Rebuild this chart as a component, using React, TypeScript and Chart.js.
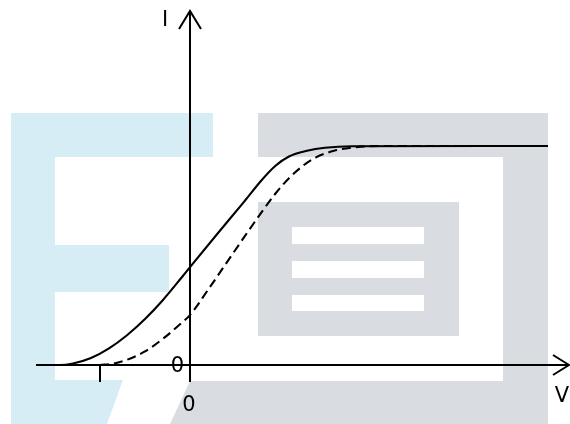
import React, { useEffect, useRef } from "react";
import { Chart, registerables } from "chart.js";

Chart.register(...registerables);

// I–V characteristic: solid and dashed curves (voltage V, current I normalised to saturation)
const voltageSolid = [-1.711, -1.45, -1.3, -1.1, -0.9, -0.7, -0.5, -0.3, -0.1, 0, 0.3, 0.6, 0.8, 0.95, 1.1, 1.3, 1.5, 1.8, 3.978];
const currentSolid = [0, 0, 0.007, 0.032, 0.076, 0.136, 0.21, 0.297, 0.396, 0.447, 0.597, 0.745, 0.846, 0.91, 0.952, 0.978, 0.992, 0.999, 1.0];

const voltageDashed = [-1.0, -0.85, -0.7, -0.5, -0.3, -0.1, 0, 0.2, 0.4, 0.6, 0.8, 0.95, 1.1, 1.25, 1.4, 1.6, 1.85, 2.1, 3.978];
const currentDashed = [0, 0.006, 0.024, 0.062, 0.12, 0.19, 0.228, 0.343, 0.463, 0.583, 0.7, 0.783, 0.853, 0.908, 0.948, 0.978, 0.995, 1.0, 1.0];

// axis extents and marked tick
const xAxisStart = -1.711;
const yAxisStart = -0.078;
const xTicks = [-1];
const axisLabels = ["V", "I"];
const originLabel = "0";

const V_MIN = -19 / 9;
const V_MAX = 38 / 9;
const I_MIN = -59 / 219;
const I_MAX = 365 / 219;

const toPoints = (xs: number[], ys: number[]) => xs.map((x, i) => ({ x, y: ys[i] }));

// light background emblem behind the plot
const backdrop = {
  id: "backdrop",
  beforeDraw(chart: any) {
    const ctx = chart.ctx as CanvasRenderingContext2D;
    ctx.save();
    ctx.fillStyle = "#d7edf5";
    ctx.fillRect(11, 113, 202, 44);
    ctx.fillRect(11, 113, 44, 311);
    ctx.fillRect(55, 245, 114, 47);
    ctx.beginPath();
    ctx.moveTo(55, 380);
    ctx.lineTo(123, 380);
    ctx.lineTo(107, 424);
    ctx.lineTo(55, 424);
    ctx.closePath();
    ctx.fill();

    ctx.fillStyle = "#d9dde1";
    ctx.fillRect(258, 113, 290, 44);
    ctx.fillRect(503, 113, 45, 311);
    ctx.beginPath();
    ctx.moveTo(190, 381);
    ctx.lineTo(548, 381);
    ctx.lineTo(548, 424);
    ctx.lineTo(170, 424);
    ctx.closePath();
    ctx.fill();
    ctx.fillRect(258, 202, 201, 134);
    ctx.fillStyle = "#ffffff";
    ctx.fillRect(292, 227, 132, 17);
    ctx.fillRect(292, 261, 132, 17);
    ctx.fillRect(292, 295, 132, 16);
    ctx.restore();
  },
};

// coordinate axes with arrowheads, tick and labels
const axesPlugin = {
  id: "axesPlugin",
  afterDatasetsDraw(chart: any) {
    const ctx = chart.ctx as CanvasRenderingContext2D;
    const xs = chart.scales.x;
    const ys = chart.scales.y;
    const x0 = xs.getPixelForValue(0);
    const y0 = ys.getPixelForValue(0);
    const xEnd = xs.getPixelForValue(V_MAX) - 1;
    const yTop = ys.getPixelForValue(I_MAX) + 11;
    ctx.save();
    ctx.strokeStyle = "#000";
    ctx.lineWidth = 2;
    ctx.beginPath();
    ctx.moveTo(xs.getPixelForValue(xAxisStart), y0);
    ctx.lineTo(xEnd, y0);
    ctx.moveTo(x0, ys.getPixelForValue(yAxisStart));
    ctx.lineTo(x0, yTop);
    ctx.stroke();

    ctx.lineWidth = 2;
    ctx.beginPath();
    ctx.moveTo(xEnd - 16, y0 - 10);
    ctx.lineTo(xEnd, y0);
    ctx.lineTo(xEnd - 16, y0 + 10);
    ctx.moveTo(x0 - 11, yTop + 18);
    ctx.lineTo(x0, yTop);
    ctx.lineTo(x0 + 11, yTop + 18);
    ctx.stroke();

    ctx.beginPath();
    xTicks.forEach((t) => {
      const px = xs.getPixelForValue(t);
      ctx.moveTo(px, y0);
      ctx.lineTo(px, y0 + 17);
    });
    ctx.stroke();

    ctx.fillStyle = "#000";
    ctx.font = '21px "DejaVu Sans", sans-serif';
    ctx.textAlign = "center";
    ctx.textBaseline = "middle";
    ctx.fillText(axisLabels[0], xEnd - 7, y0 + 32);
    ctx.fillText(axisLabels[1], x0 - 25, yTop + 10);
    ctx.fillText(originLabel, x0 - 12.5, y0 + 2);
    ctx.fillText(originLabel, x0 - 1, y0 + 41);
    ctx.restore();
  },
};

export default function App() {
  const canvasRef = useRef<HTMLCanvasElement | null>(null);

  useEffect(() => {
    const canvas = canvasRef.current;
    if (!canvas) return;
    const chart = new Chart(canvas, {
      type: "scatter",
      data: {
        datasets: [
          {
            data: toPoints(voltageSolid, currentSolid),
            showLine: true,
            borderColor: "#000",
            borderWidth: 2.1,
            pointRadius: 0,
            cubicInterpolationMode: "monotone",
            fill: false,
          },
          {
            data: toPoints(voltageDashed, currentDashed),
            showLine: true,
            borderColor: "#000",
            borderWidth: 2.1,
            borderDash: [9, 5],
            pointRadius: 0,
            cubicInterpolationMode: "monotone",
            fill: false,
          },
        ],
      },
      options: {
        responsive: false,
        animation: false,
        devicePixelRatio: 1,
        layout: { padding: 0 },
        plugins: {
          legend: { display: false },
          tooltip: { enabled: false },
        },
        scales: {
          x: { type: "linear", min: V_MIN, max: V_MAX, display: false },
          y: { type: "linear", min: I_MIN, max: I_MAX, display: false },
        },
      },
      plugins: [backdrop, axesPlugin],
    });
    return () => chart.destroy();
  }, []);

  return (
    <div style={{ position: "fixed", left: 0, top: 0, width: 570, height: 424, background: "#fff" }}>
      <canvas ref={canvasRef} width={570} height={424} style={{ display: "block" }} />
    </div>
  );
}
